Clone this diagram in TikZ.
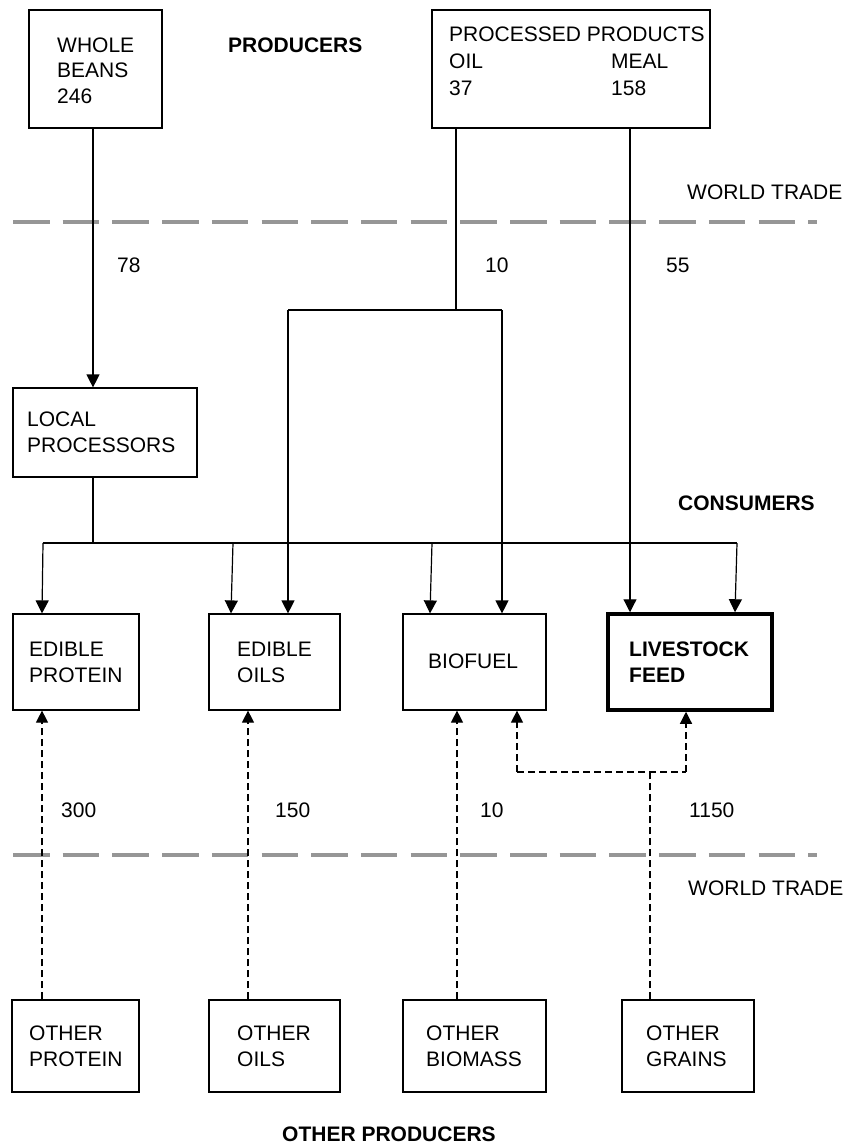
\documentclass[tikz,border=0pt]{standalone}
\usepackage{fontspec}
\setmainfont{Liberation Sans}
\usetikzlibrary{arrows.meta}
\definecolor{tradegray}{RGB}{150,150,150}
\begin{document}
\begin{tikzpicture}[x=1pt,y=-1pt,
  box/.style={draw, line width=1.2pt, inner sep=0pt},
  thickbox/.style={draw, line width=3.5pt, inner sep=0pt},
  txt/.style={anchor=base west, inner sep=0pt, align=left, font=\fontsize{21pt}{25.5pt}\selectfont},
  btxt/.style={txt, font=\fontsize{21pt}{25.5pt}\selectfont\bfseries},
  ln/.style={line width=1.2pt},
  arr/.style={ln, -{Triangle[length=13pt,width=13pt]}},
  darr/.style={ln, dash pattern=on 7pt off 4pt, -{Triangle[length=12pt,width=12pt]}},
  dln/.style={ln, dash pattern=on 7pt off 4pt},
  trade/.style={line width=4pt, color=tradegray, dash pattern=on 36.5pt off 13.2pt}
]
\useasboundingbox (0,0) rectangle (846,1145);

% boxes
\node[box, minimum width=133pt, minimum height=118pt] (wb) at (95.5,69) {};
\node[box, minimum width=278pt, minimum height=118pt] (pp) at (571,69) {};
\node[box, minimum width=184pt, minimum height=89pt] (lp) at (105,432.5) {};
\node[box, minimum width=126pt, minimum height=96pt] (ep) at (76,662) {};
\node[box, minimum width=131pt, minimum height=96pt] (eo) at (274.5,662) {};
\node[box, minimum width=143pt, minimum height=96pt] (bf) at (474.5,662) {};
\node[thickbox, minimum width=164pt, minimum height=96pt] (lf) at (690,662) {};
\node[box, minimum width=127pt, minimum height=92pt] (op) at (75.5,1046) {};
\node[box, minimum width=131pt, minimum height=92pt] (oo) at (274.5,1046) {};
\node[box, minimum width=143pt, minimum height=92pt] (ob) at (474.5,1046) {};
\node[box, minimum width=132pt, minimum height=92pt] (og) at (688,1046) {};

% box texts (anchor = baseline of last line)
\node[txt] (wbt) at (57,103) {WHOLE\\BEANS\\246};
\node[txt] (ppt) at (449,96) {PROCESSED PRODUCTS\\[1.5pt]\makebox[162pt][l]{OIL}MEAL\\[1.5pt]\makebox[162pt][l]{37}158};
\node[txt] (lpt) at (27,452) {LOCAL\\PROCESSORS};
\node[txt] (ept) at (29,682) {EDIBLE\\PROTEIN};
\node[txt] (eot) at (237,682) {EDIBLE\\OILS};
\node[txt] (bft) at (428,668) {BIOFUEL};
\node[btxt] (lft) at (629,682) {LIVESTOCK\\FEED};
\node[txt] (opt) at (29,1066) {OTHER\\PROTEIN};
\node[txt] (oot) at (237,1066) {OTHER\\OILS};
\node[txt] (obt) at (426,1066) {OTHER\\BIOMASS};
\node[txt] (ogt) at (646,1066) {OTHER\\GRAINS};

% headings
\node[btxt] (prod) at (228,53) {PRODUCERS};
\node[btxt] (cons) at (678,510) {CONSUMERS};
\node[btxt] (oprod) at (282,1141) {OTHER PRODUCERS};
\node[txt] (wt1) at (687,199) {WORLD TRADE};
\node[txt] (wt2) at (688,895) {WORLD TRADE};

% numbers
\node[txt] (n78) at (117,272) {78};
\node[txt] (n10a) at (485,272) {10};
\node[txt] (n55) at (666,272) {55};
\node[txt] (n300) at (61,817) {300};
\node[txt] (n150) at (275,817) {150};
\node[txt] (n10b) at (480,817) {10};
\node[txt] (n1150) at (689,817) {1150};

% world trade lines
\coordinate (t1l) at (13,222); \coordinate (t1r) at (817,222);
\coordinate (t2l) at (13,855); \coordinate (t2r) at (817,855);
\draw[trade] (t1l) -- (t1r);
\draw[trade] (t2l) -- (t2r);

% solid connectors
\draw[arr] (93,0 |- wb.south) -- (93,0 |- lp.north);

\coordinate (oilj) at (456,310);
\coordinate (oill) at (288,310);
\coordinate (oilr) at (502,310);
\draw[ln] (456,0 |- pp.south) -- (oilj);
\draw[ln] (oill) -- (oilr);
\draw[arr] (oill) -- (oill |- eo.north);
\draw[arr] (oilr) -- (oilr |- bf.north);

\draw[arr] (630,0 |- pp.south) -- (630,0 |- lf.north);

\coordinate (lpj) at (93,543);
\coordinate (busl) at (43,543);
\coordinate (busr) at (737,543);
\coordinate (bus2) at (233,543);
\coordinate (bus3) at (432,543);
\draw[ln] (93,0 |- lp.south) -- (lpj);
\draw[ln] (busl) -- (busr);
\draw[arr] (busl) -- (42,0 |- ep.north);
\draw[arr] (bus2) -- (231,0 |- eo.north);
\draw[arr] (bus3) -- (430,0 |- bf.north);
\draw[arr] (busr) -- (735,0 |- lf.north);

% dashed connectors
\draw[darr] (42,0 |- op.north) -- (42,0 |- ep.south);
\draw[darr] (248,0 |- oo.north) -- (248,0 |- eo.south);
\draw[darr] (457,0 |- ob.north) -- (457,0 |- bf.south);
\coordinate (grj) at (650,772);
\coordinate (grl) at (517,772);
\coordinate (grr) at (686,772);
\draw[dln] (650,0 |- og.north) -- (grj);
\draw[dln] (grl) -- (grr);
\draw[darr] (grl) -- (grl |- bf.south);
\draw[darr] (grr) -- (grr |- lf.south);
\end{tikzpicture}
\end{document}
